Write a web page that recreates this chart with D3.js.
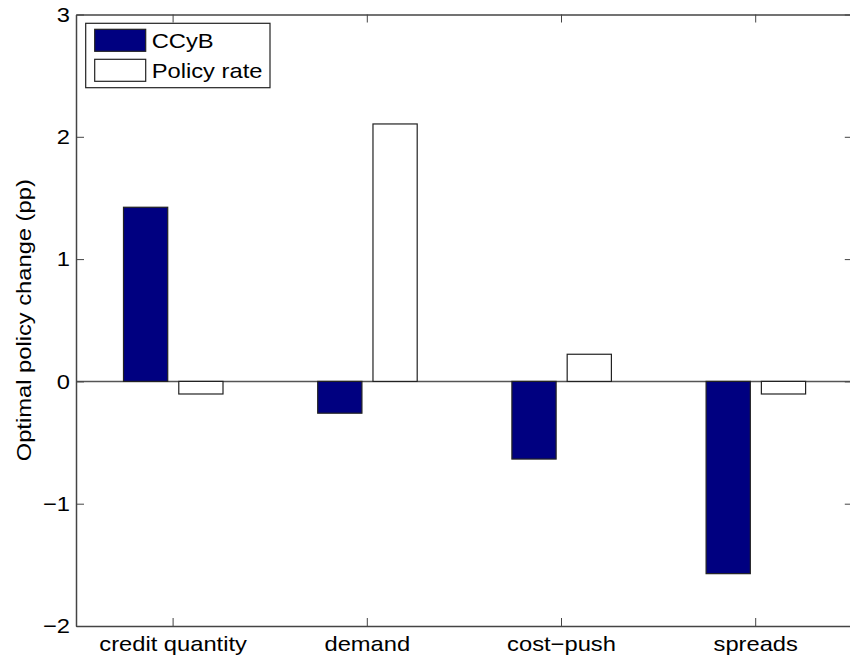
<!DOCTYPE html>
<style>
  body { margin: 0; background: white; }
  svg { font-family: "Liberation Sans", Arial, sans-serif; }
  .axis path, .axis line { stroke: #444; }
  .axis text { fill: black; font-size: 21px; }
</style>
<body>
</body>
<script src="https://cdn.jsdelivr.net/npm/d3@7"></script>
<script>
  const categories = ['credit quantity', 'demand', 'cost\u2212push', 'spreads'];
  const series = ['CCyB', 'Policy rate'];
  const ccyb = [1.424, -0.26, -0.635, -1.572];
  const policyRate = [-0.103, 2.105, 0.222, -0.103];
  const yTicks = [-2, -1, 0, 1, 2, 3];
  const colors = ['#000080', '#ffffff'];

  const w = 850, h = 662;
  const l = 76, r = 852.8, t = 14.5, b = 626;
  const sx = 1.13; // text in the picture is a bit wide

  const svg = d3.select('body').append('svg')
    .attr('width', w).attr('height', h);

  const x = d3.scaleBand().domain(categories).range([l, r]).padding(0);
  const xs = d3.scaleBand().domain(series).range([47.5, 147]).paddingInner(0.2);
  const y = d3.scaleLinear().domain([-2, 3]).range([b, t]);

  const rows = categories.map((c, i) => ({c, v: [ccyb[i], policyRate[i]]}));

  // zero baseline
  svg.append('line')
    .attr('x1', l).attr('x2', r)
    .attr('y1', y(0)).attr('y2', y(0))
    .attr('stroke', '#555').attr('stroke-width', 1.5);

  // bars
  const groups = svg.append('g').selectAll('g')
    .data(rows)
    .join('g')
    .attr('transform', d => `translate(${x(d.c)},0)`);
  groups.selectAll('rect')
    .data(d => d.v.map((v, k) => ({s: series[k], v, k})))
    .join('rect')
    .attr('x', d => xs(d.s))
    .attr('width', xs.bandwidth())
    .attr('y', d => y(Math.max(0, d.v)))
    .attr('height', d => Math.abs(y(d.v) - y(0)))
    .attr('fill', d => colors[d.k])
    .attr('stroke', '#222')
    .attr('stroke-width', 1.2);

  // axes
  const ax = d3.axisBottom(x).tickSize(-8).tickPadding(10).tickSizeOuter(0);
  const gx = svg.append('g').attr('class', 'axis')
    .attr('transform', `translate(0,${b})`).call(ax);
  gx.selectAll('text').attr('transform', `scale(${sx},1)`).attr('dy', '0.71em');

  svg.append('g').attr('class', 'axis')
    .attr('transform', `translate(0,${t})`)
    .call(d3.axisTop(x).tickSize(-8).tickSizeOuter(0).tickFormat(''));

  const gy = svg.append('g').attr('class', 'axis')
    .attr('transform', `translate(${l},0)`)
    .call(d3.axisLeft(y).tickValues(yTicks).tickSize(-8).tickSizeOuter(0)
      .tickFormat(d => d < 0 ? '\u2212' + Math.abs(d) : d));
  gy.selectAll('text').attr('x', -6 / sx).attr('transform', `scale(${sx},1)`);

  svg.append('g').attr('class', 'axis')
    .attr('transform', `translate(${r},0)`)
    .call(d3.axisRight(y).tickValues(yTicks).tickSize(-8).tickSizeOuter(0).tickFormat(''));

  svg.selectAll('.axis path').attr('stroke-width', 1.5);

  // y label
  svg.append('text')
    .attr('transform', `translate(31,${(t + b) / 2}) rotate(-90) scale(${sx},1)`)
    .attr('text-anchor', 'middle')
    .attr('font-size', 21)
    .text('Optimal policy change (pp)');

  // legend
  const lg = svg.append('g').attr('transform', 'translate(85.7,23.3)');
  lg.append('rect').attr('width', 184.3).attr('height', 64.4)
    .attr('fill', 'white').attr('stroke', '#222').attr('stroke-width', 1.2);
  const items = lg.selectAll('g.item')
    .data(series)
    .join('g').attr('class', 'item')
    .attr('transform', (d, i) => `translate(9,${6 + i * 30})`);
  items.append('rect')
    .attr('width', 51).attr('height', 22)
    .attr('fill', (d, i) => colors[i])
    .attr('stroke', '#222').attr('stroke-width', 1.2);
  items.append('text')
    .attr('transform', `translate(57,19) scale(${sx},1)`)
    .attr('font-size', 21)
    .text(d => d);
</script>
